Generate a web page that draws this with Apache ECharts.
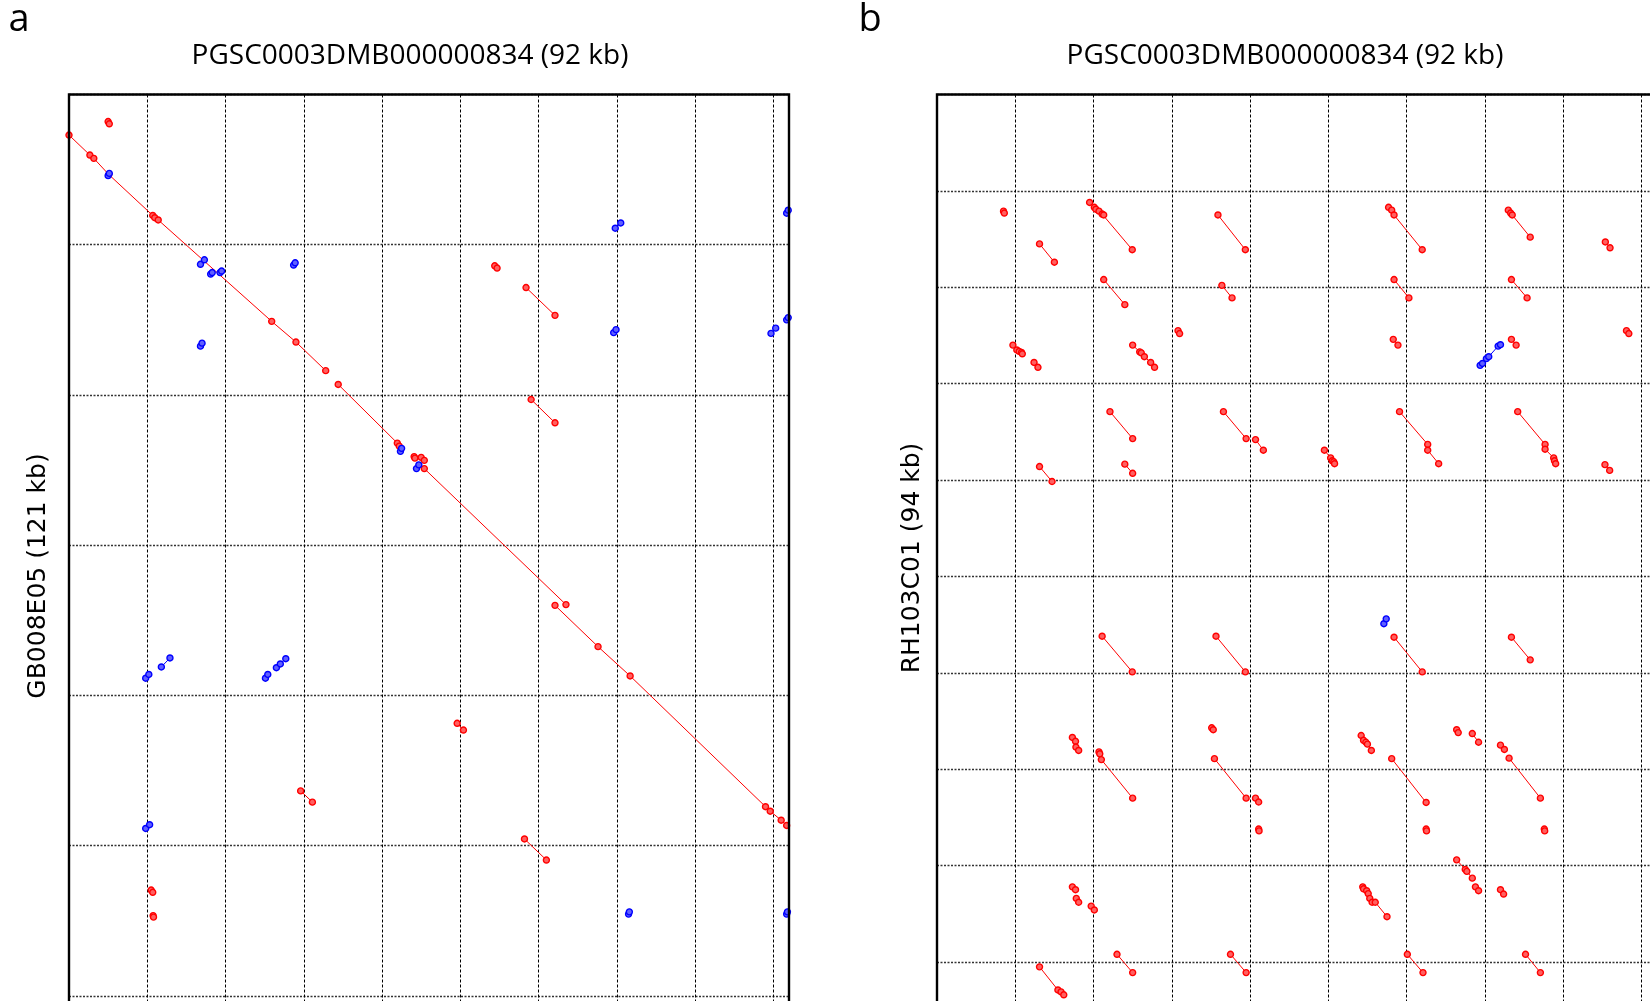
<!DOCTYPE html>
<html>
<head>
<meta charset="utf-8">
<script src="https://cdn.jsdelivr.net/npm/echarts@6/dist/echarts.min.js"></script>
<style>
  html, body { margin: 0; padding: 0; background: #fff; }
  #chart { width: 1650px; height: 1001px; }
</style>
</head>
<body>
<div id="chart"></div>
<script>
// ---------- texts ----------
const titleA = 'PGSC0003DMB000000834 (92 kb)';
const titleB = 'PGSC0003DMB000000834 (92 kb)';
const yNameA = 'GB008E05 (121 kb)';
const yNameB = 'RH103C01 (94 kb)';
const panelLetters = ['a', 'b'];

// ---------- axis extents (kb) ----------
const xMaxKb = 92;
const xStepKb = 10;
const yMaxA = 121;
const yStepA = 20;
const yMaxB = 94.2;
const yStepB = 10;

// ---------- panel a hits: [x kb (PGSC), y kb (GB008E05)] ----------
const aRedHits = [
  [[5.0, 3.6], [5.15, 3.9]],
  [[0, 5.4], [2.67, 8.06], [3.17, 8.5], [5.08, 10.65], [10.7, 16.1], [10.96, 16.4], [11.4, 16.7], [25.9, 30.2], [29.0, 32.95], [32.8, 36.76]],
  [[34.4, 38.6], [41.95, 46.4], [42.2, 46.8]],
  [[44.1, 48.2], [44.2, 48.4]],
  [[45.0, 48.3], [45.4, 48.7]],
  [[45.4, 49.8], [63.5, 67.9]],
  [[62.1, 68.0], [67.6, 73.5], [71.7, 77.4], [89.0, 94.8], [89.6, 95.4], [91.0, 96.6], [91.7, 97.3]],
  [[54.4, 22.8], [54.7, 23.1]],
  [[58.4, 25.7], [62.1, 29.4]],
  [[59.05, 40.6], [62.1, 43.7]],
  [[49.6, 83.7], [50.4, 84.6]],
  [[29.6, 92.7], [31.1, 94.2]],
  [[58.2, 99.1], [61.0, 101.9]],
  [[10.5, 105.9], [10.7, 106.2]],
  [[10.75, 109.3], [10.8, 109.5]]
];
const aBlueHits = [
  [[5.0, 10.8], [5.15, 10.5]],
  [[16.8, 22.6], [17.3, 22.0]],
  [[18.1, 23.9], [18.3, 23.7]],
  [[19.3, 23.7], [19.5, 23.5]],
  [[28.7, 22.7], [28.9, 22.4]],
  [[69.8, 17.8], [70.5, 17.1]],
  [[91.7, 15.8], [91.9, 15.4]],
  [[69.6, 31.7], [69.9, 31.3]],
  [[89.7, 31.8], [90.3, 31.1]],
  [[91.7, 30.0], [91.9, 29.7]],
  [[16.8, 33.5], [17.0, 33.1]],
  [[42.35, 47.5], [42.5, 47.1]],
  [[44.4, 49.8], [44.7, 49.3]],
  [[9.8, 77.7], [10.2, 77.2]],
  [[11.8, 76.2], [12.9, 75.0]],
  [[25.1, 77.7], [25.4, 77.2]],
  [[26.5, 76.3], [27.0, 75.8], [27.7, 75.1]],
  [[9.8, 97.7], [10.3, 97.2]],
  [[71.5, 109.1], [71.6, 108.8]],
  [[91.7, 109.1], [91.8, 108.8]]
];

// ---------- panel b hits: [x kb (PGSC), y kb (RH103C01)] ----------
const bRedHits = [
  [[8.5, 12.1], [8.6, 12.3]],
  [[13.1, 15.5], [15.0, 17.4]],
  [[19.5, 11.2], [20.1, 11.7], [20.3, 11.9], [20.7, 12.1], [21.1, 12.4], [21.3, 12.5], [24.95, 16.1]],
  [[35.9, 12.5], [39.4, 16.1]],
  [[57.7, 11.7], [58.1, 12.0], [58.4, 12.5], [62.0, 16.1]],
  [[73.0, 12.0], [73.3, 12.3], [73.5, 12.5], [75.8, 14.8]],
  [[85.4, 15.3], [86.0, 15.9]],
  [[21.3, 19.2], [24.0, 21.8]],
  [[36.4, 19.8], [37.7, 21.1]],
  [[58.4, 19.2], [60.3, 21.1]],
  [[73.4, 19.2], [75.4, 21.1]],
  [[9.7, 26.0], [10.2, 26.5], [10.5, 26.65], [10.8, 26.75], [10.9, 26.9]],
  [[12.4, 27.8], [12.9, 28.3]],
  [[25.0, 26.0], [25.9, 26.7], [26.1, 26.8], [26.5, 27.2], [27.3, 27.8], [27.8, 28.3]],
  [[30.8, 24.5], [31.0, 24.8]],
  [[58.3, 25.4], [58.9, 26.0]],
  [[73.4, 25.4], [74.0, 26.0]],
  [[88.1, 24.5], [88.4, 24.8]],
  [[22.1, 32.9], [25.0, 35.7]],
  [[36.6, 32.9], [39.5, 35.7]],
  [[40.7, 35.8], [41.7, 36.9]],
  [[49.5, 36.9], [50.3, 37.7], [50.5, 38.0], [50.7, 38.1], [50.8, 38.3]],
  [[59.1, 32.9], [62.7, 36.3], [62.7, 36.9], [64.1, 38.3]],
  [[74.2, 32.9], [77.7, 36.3], [77.7, 36.8], [78.8, 37.7], [78.9, 38.0], [79.05, 38.3]],
  [[85.35, 38.4], [85.95, 39.0]],
  [[13.1, 38.6], [14.7, 40.15]],
  [[24.0, 38.35], [25.0, 39.3]],
  [[21.1, 56.2], [24.95, 59.9]],
  [[35.65, 56.2], [39.4, 59.9]],
  [[58.4, 56.3], [62.0, 59.9]],
  [[73.4, 56.3], [75.8, 58.65]],
  [[35.1, 65.7], [35.3, 65.9]],
  [[17.3, 66.7], [17.7, 67.1]],
  [[17.75, 67.7], [18.1, 68.05]],
  [[20.7, 68.2], [20.8, 68.4]],
  [[21.0, 69.0], [25.0, 73.0]],
  [[35.45, 68.9], [39.5, 73.0]],
  [[40.7, 73.0], [41.1, 73.4]],
  [[41.1, 76.2], [41.15, 76.4]],
  [[54.2, 66.5], [54.5, 67.0], [54.8, 67.2], [55.0, 67.4], [55.5, 68.05]],
  [[58.1, 68.9], [62.5, 73.45]],
  [[62.5, 76.2], [62.55, 76.4]],
  [[66.4, 65.9], [66.6, 66.2]],
  [[68.4, 66.3], [69.2, 67.2]],
  [[72.0, 67.5], [72.5, 67.95]],
  [[73.1, 68.85], [77.1, 73.0]],
  [[77.6, 76.2], [77.65, 76.4]],
  [[66.4, 79.4], [67.5, 80.4], [67.7, 80.6], [68.4, 81.3]],
  [[68.8, 82.2], [69.2, 82.6]],
  [[72.0, 82.5], [72.4, 82.95]],
  [[17.3, 82.2], [17.7, 82.5]],
  [[17.8, 83.4], [18.1, 83.8]],
  [[19.7, 84.2], [20.1, 84.6]],
  [[54.4, 82.2], [54.5, 82.4], [54.9, 82.6], [55.1, 82.9], [55.3, 83.4], [55.6, 83.8], [56.0, 83.8], [57.5, 85.3]],
  [[23.0, 89.2], [25.0, 91.1]],
  [[37.5, 89.2], [39.5, 91.1]],
  [[60.1, 89.2], [62.1, 91.1]],
  [[75.2, 89.2], [77.1, 91.1]],
  [[13.1, 90.5], [15.45, 92.9], [15.85, 93.1], [16.2, 93.4]]
];
const bBlueHits = [
  [[69.4, 28.1], [69.7, 27.9], [70.2, 27.4], [70.5, 27.2], [71.7, 26.1], [72.0, 25.96]],
  [[57.1, 54.9], [57.4, 54.4]]
];

// ---------- build chart ----------
const RED = '#ff0000', BLUE = '#0000ff';
function hitSeries(hits, color, fill, gi) {
  return hits.map(h => ({
    type: 'line',
    xAxisIndex: gi, yAxisIndex: gi,
    data: h,
    symbol: 'circle', symbolSize: 6, showSymbol: true, showAllSymbol: true,
    lineStyle: { color: color, width: 1 },
    itemStyle: { color: fill, borderColor: color, borderWidth: 1.4 },
    emphasis: { disabled: true },
    silent: true, animation: false, clip: true, z: 5
  }));
}

const vSplit = { show: true, lineStyle: { color: '#000', width: 1, type: [3, 2] } };
const hSplit = { show: true, lineStyle: { color: '#333', width: 1.3, type: [2, 1.5] } };

function xAx(gi) {
  return { type: 'value', gridIndex: gi, min: 0, max: xMaxKb, interval: xStepKb,
    axisLine: { show: false }, axisTick: { show: false }, axisLabel: { show: false }, splitLine: vSplit };
}
function yAx(gi, max, step) {
  return { type: 'value', gridIndex: gi, min: 0, max: max, interval: step, inverse: true,
    axisLine: { show: false }, axisTick: { show: false }, axisLabel: { show: false }, splitLine: hSplit };
}

const chart = echarts.init(document.getElementById('chart'), null, { renderer: 'canvas' });
chart.setOption({
  backgroundColor: '#fff',
  animation: false,
  grid: [
    { left: 69, top: 94.5, width: 720, height: 909, outerBoundsMode: 'none', containLabel: false, show: true, borderColor: '#000', borderWidth: 2.4, backgroundColor: 'transparent', z: 10 },
    { left: 937, top: 94.5, width: 720, height: 908, outerBoundsMode: 'none', containLabel: false, show: true, borderColor: '#000', borderWidth: 2.4, backgroundColor: 'transparent', z: 10 }
  ],
  xAxis: [xAx(0), xAx(1)],
  yAxis: [yAx(0, yMaxA, yStepA), yAx(1, yMaxB, yStepB)],
  series: [].concat(
    hitSeries(aRedHits, RED, '#ff6060', 0),
    hitSeries(aBlueHits, BLUE, '#6060ff', 0),
    hitSeries(bRedHits, RED, '#ff6060', 1),
    hitSeries(bBlueHits, BLUE, '#6060ff', 1)
  ),
  graphic: [
    { type: 'text', x: 19, y: 20, style: { text: panelLetters[0], font: '38px "Open Sans"', fill: '#000', textAlign: 'center', textVerticalAlign: 'middle' } },
    { type: 'text', x: 870, y: 20, style: { text: panelLetters[1], font: '38px "Open Sans"', fill: '#000', textAlign: 'center', textVerticalAlign: 'middle' } },
    { type: 'text', x: 410, y: 56, style: { text: titleA, font: '28px "Open Sans"', fill: '#000', textAlign: 'center', textVerticalAlign: 'middle' } },
    { type: 'text', x: 1285, y: 56, style: { text: titleB, font: '28px "Open Sans"', fill: '#000', textAlign: 'center', textVerticalAlign: 'middle' } },
    { type: 'text', x: 38, y: 576, rotation: Math.PI / 2, style: { text: yNameA, font: '25px "DejaVu Sans"', fill: '#000', textAlign: 'center', textVerticalAlign: 'middle' } },
    { type: 'text', x: 912, y: 558, rotation: Math.PI / 2, style: { text: yNameB, font: '25px "DejaVu Sans"', fill: '#000', textAlign: 'center', textVerticalAlign: 'middle' } }
  ]
});
</script>
</body>
</html>
